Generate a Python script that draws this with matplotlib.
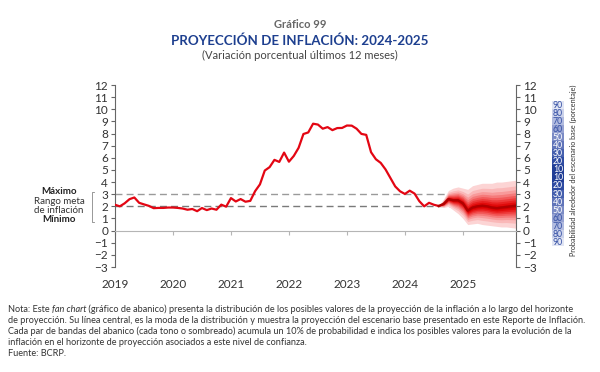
import matplotlib.pyplot as plt
from matplotlib.lines import Line2D
from matplotlib.patches import Rectangle
import numpy as np

plt.rcParams['font.family'] = ['Lato', 'DejaVu Sans']

# inflación observada (var. % 12 meses), ene-2019 a ago-2024
observada = [2.13, 2.00, 2.25, 2.59, 2.73, 2.29, 2.16, 2.04, 1.85, 1.87, 1.87, 1.90,
             1.90, 1.87, 1.82, 1.72, 1.78, 1.60, 1.86, 1.69, 1.82, 1.72, 2.14, 1.97,
             2.68, 2.40, 2.60, 2.38, 2.45, 3.25, 3.81, 4.95, 5.23, 5.83, 5.66, 6.43,
             5.68, 6.15, 6.82, 7.96, 8.09, 8.81, 8.74, 8.40, 8.53, 8.28, 8.45, 8.46,
             8.66, 8.65, 8.40, 7.97, 7.89, 6.46, 5.88, 5.58, 5.04, 4.34, 3.64, 3.24,
             3.02, 3.29, 3.05, 2.42, 2.00, 2.29, 2.13, 2.03]

# proyección (moda) y límites del 90%, ago-2024 a dic-2025
proy_centro = [2.03, 2.20, 2.60, 2.50, 2.50, 2.25, 1.65, 1.90, 2.00, 2.05, 2.00, 1.90,
               1.85, 1.90, 1.95, 2.00, 2.05]
proy_sup90 = [2.03, 2.60, 3.30, 3.50, 3.60, 3.50, 3.40, 3.70, 3.80, 3.90, 3.90, 3.90,
              4.00, 4.00, 4.05, 4.10, 4.15]
proy_inf90 = [2.03, 1.90, 2.00, 1.70, 1.40, 1.00, 0.50, 0.55, 0.60, 0.50, 0.45, 0.40,
              0.35, 0.30, 0.30, 0.25, 0.20]

# cuantiles normales de cada par de bandas (10%, 20%, ..., 90%)
cuantiles = [0.126, 0.253, 0.385, 0.524, 0.674, 0.842, 1.036, 1.282, 1.645]
colores_fan = ['#d40000', '#e00a0a', '#e82020', '#ee3c3c', '#f25a5a',
               '#f57a7a', '#f89a9a', '#fab8b8', '#fcd4d4']

anios = ['2019', '2020', '2021', '2022', '2023', '2024', '2025']
meta_min, meta_max = 2, 3

probs = [90, 80, 70, 60, 50, 40, 30, 20, 10, 10, 20, 30, 40, 50, 60, 70, 80, 90]
colores_prob = {10: '#213e96', 20: '#2e4ba2', 30: '#4660ae', 40: '#6074b9',
                50: '#7b8bc5', 60: '#97a3d2', 70: '#b1bbdf', 80: '#cbd2ea', 90: '#e1e5f3'}

nota = ['de proyección. Su línea central, es la moda de la distribución y muestra la proyección del escenario base presentado en este Reporte de Inflación.',
        'Cada par de bandas del abanico (cada tono o sombreado) acumula un 10% de probabilidad e indica los posibles valores para la evolución de la',
        'inflación en el horizonte de proyección asociados a este nivel de confianza.',
        'Fuente: BCRP.']

fig = plt.figure(figsize=(6, 3.72), dpi=100)
ax = fig.add_axes([115 / 600, 1 - 267 / 372, 401 / 600, 182 / 372])

x_obs = np.arange(len(observada))
x_proy = np.arange(len(observada) - 1, len(observada) - 1 + len(proy_centro))
c = np.array(proy_centro)
up = np.array(proy_sup90)
lo = np.array(proy_inf90)

ax.axhline(meta_max, color='#9a9a9a', lw=1, dashes=(5, 3), zorder=1)
ax.axhline(meta_min, color='#7a7a7a', lw=1, dashes=(5, 3), zorder=1)

for z, col in zip(cuantiles[::-1], colores_fan[::-1]):
    r = z / cuantiles[-1]
    ax.fill_between(x_proy, c - r * (c - lo), c + r * (up - c), color=col, lw=0, zorder=2)

ax.plot(x_obs, observada, color='#e30613', lw=1.6, zorder=3)
ax.plot(x_proy, proy_centro, color='#b00000', lw=1.7, zorder=3)

ax.set_xlim(0, 83)
ax.set_ylim(-3, 12)
ax.spines['top'].set_visible(False)
ax.spines['bottom'].set_position(('data', 0))
ax.spines['bottom'].set_color('#b5b5b5')
for s in ['left', 'right']:
    ax.spines[s].set_color('#666666')
    ax.spines[s].set_linewidth(0.8)

ax.set_yticks(range(-3, 13))
ax.tick_params(axis='y', left=True, right=True, labelleft=True, labelright=True,
               direction='out', length=3, width=0.8, color='#666666',
               labelsize=8.5, labelcolor='#333333', pad=2)
ax.set_xticks(range(0, 84, 12))
ax.set_xticklabels(anios)
ax.tick_params(axis='x', direction='out', length=3, width=0.8, color='#b5b5b5',
               labelsize=8.5, labelcolor='#333333', pad=32)

# rango meta a la izquierda
fig.text(59 / 600, 1 - 191 / 372, 'Máximo', ha='center', va='center', fontsize=7, fontweight='bold', color='#222222')
fig.text(59 / 600, 1 - 201 / 372, 'Rango meta', ha='center', va='center', fontsize=7, color='#333333')
fig.text(59 / 600, 1 - 210 / 372, 'de inflación', ha='center', va='center', fontsize=7, color='#333333')
fig.text(59 / 600, 1 - 220 / 372, 'Mínimo', ha='center', va='center', fontsize=7, fontweight='bold', color='#222222')
bx, by0, by1 = 92 / 600, 1 - 192 / 372, 1 - 222 / 372
fig.add_artist(Line2D([bx + 0.004, bx, bx, bx + 0.004], [by0, by0, by1, by1],
                      color='#888888', lw=0.6, transform=fig.transFigure))

# leyenda de probabilidades
lax = fig.add_axes([552 / 600, 1 - 246 / 372, 12 / 600, 145 / 372])
for i, p in enumerate(probs):
    lax.add_patch(Rectangle((0, i), 1, 1, color=colores_prob[p], lw=0))
    lax.text(0.5, i + 0.55, str(p), ha='center', va='center', fontsize=6.3,
             color='white' if p <= 50 else '#3550a5')
lax.set_xlim(0, 1)
lax.set_ylim(len(probs), 0)
lax.axis('off')
fig.text(573 / 600, 1 - 170 / 372, 'Probabilidad alrededor del escenario base (porcentaje)',
         rotation=90, ha='center', va='center', fontsize=5.2, color='#333333')

# títulos
fig.text(0.5, 1 - 25 / 372, 'Gráfico 99', ha='center', va='center', fontsize=8, fontweight='bold', color='#666666')
fig.text(0.5, 1 - 41 / 372, 'PROYECCIÓN DE INFLACIÓN: 2024-2025', ha='center', va='center',
         fontsize=9.6, fontweight='bold', color='#1d3f8f')
fig.text(0.5, 1 - 55 / 372, '(Variación porcentual últimos 12 meses)', ha='center', va='center',
         fontsize=8, color='#444444')

# nota
fs = 6.6
y0 = 1 - 312 / 372
dy = 11 / 372
t0 = fig.text(8 / 600, y0, 'Nota: Este ', fontsize=fs, color='#333333', va='baseline')
t1 = ax.annotate('fan chart', xy=(1, 0), xycoords=t0, fontsize=fs, color='#333333',
                 style='italic', va='bottom', annotation_clip=False)
ax.annotate(' (gráfico de abanico) presenta la distribución de los posibles valores de la proyección de la inflación a lo largo del horizonte',
            xy=(1, 0), xycoords=t1, fontsize=fs, color='#333333', va='bottom', annotation_clip=False)
for k, linea in enumerate(nota):
    fig.text(8 / 600, y0 - (k + 1) * dy, linea, fontsize=fs, color='#333333', va='baseline')

fig.savefig('out.png', dpi=100)
